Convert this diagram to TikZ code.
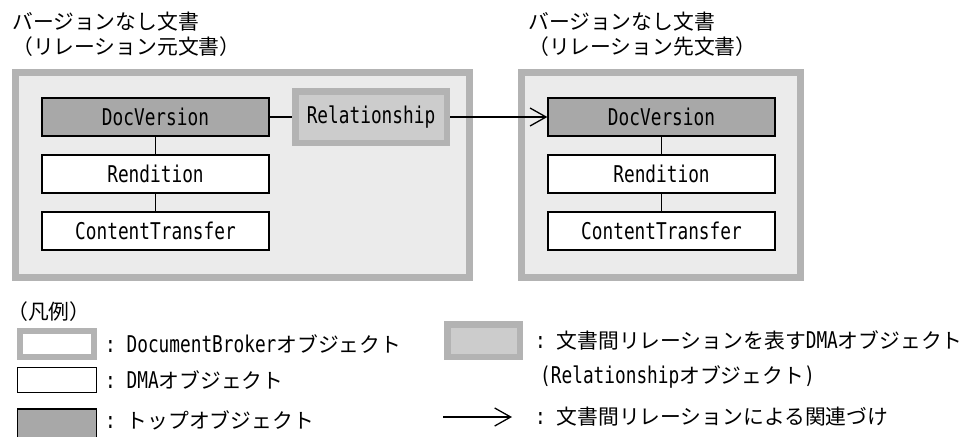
\documentclass[tikz,border=0pt]{standalone}
\usepackage{fontspec}
\newfontfamily\jpf{Noto Sans CJK JP}
\newfontfamily\latf[FakeStretch=0.77,Scale=1.11]{DejaVu Sans Mono}
\usetikzlibrary{arrows.meta}
\definecolor{brdgray}{HTML}{B3B3B3}
\definecolor{docfill}{HTML}{EBEBEB}
\definecolor{relfill}{HTML}{CCCCCC}
\definecolor{topfill}{HTML}{A8A8A8}
\tikzset{
  txt/.style={anchor=west,inner sep=0pt,font=\fontsize{20.8}{25}\selectfont\jpf},
  docbox/.style={draw=brdgray,line width=7pt,fill=docfill,inner sep=0pt},
  relbox/.style={draw=brdgray,line width=6.5pt,fill=relfill,inner sep=0pt,font=\fontsize{20.8}{25}\selectfont\latf},
  dmabox/.style={draw=black,line width=1.3pt,fill=white,inner sep=0pt,minimum width=227pt,minimum height=38pt,font=\fontsize{20.8}{25}\selectfont\latf},
  topbox/.style={dmabox,fill=topfill},
  conn/.style={draw=black,line width=1.3pt},
  relarrow/.style={conn,-{Straight Barb[length=16pt,width=18pt,line width=1.3pt]}}
}
\begin{document}
\begin{tikzpicture}[x=1pt,y=-1pt]
\useasboundingbox (0,0) rectangle (973,436);
% titles
\node[txt] (t1a) at (12,22) {バージョンなし文書};
\node[txt] (t1b) at (12,47) {（リレーション元文書）};
\node[txt] (t2a) at (528,22) {バージョンなし文書};
\node[txt] (t2b) at (528,47) {（リレーション先文書）};
% outer document boxes
\node[docbox,minimum width=454pt,minimum height=205pt] (doc1) at (242.5,175) {};
\node[docbox,minimum width=279pt,minimum height=205pt] (doc2) at (661,175) {};
% left column
\node[topbox] (dv1) at (155.5,117) {DocVersion};
\node[dmabox] (rd1) at (155.5,174) {Rendition};
\node[dmabox] (ct1) at (155.5,231) {ContentTransfer};
% relationship
\node[relbox,minimum width=151.5pt,minimum height=51.5pt] (rel) at (371,117) {Relationship};
% right column
\node[topbox] (dv2) at (661.5,117) {DocVersion};
\node[dmabox] (rd2) at (661.5,174) {Rendition};
\node[dmabox] (ct2) at (661.5,231) {ContentTransfer};
% connectors
\draw[conn] (dv1) -- (rd1);
\draw[conn] (rd1) -- (ct1);
\draw[conn] (dv2) -- (rd2);
\draw[conn] (rd2) -- (ct2);
\draw[conn] (dv1) -- (rel);
\draw[relarrow] (rel) -- (dv2);
% legend
\node[txt] (lg) at (7,312) {（凡例）};
\node[draw=brdgray,line width=6pt,fill=white,inner sep=0pt,minimum width=74pt,minimum height=26pt] (lb1) at (57,344) {};
\node[txt] (lt1) at (105,344) {{\latf :~DocumentBroker}オブジェクト};
\node[draw=black,line width=1.3pt,fill=white,inner sep=0pt,minimum width=78.7pt,minimum height=24.7pt] (lb2) at (57,380) {};
\node[txt] (lt2) at (105,380) {{\latf :~DMA}オブジェクト};
\node[draw=black,line width=1.3pt,fill=topfill,inner sep=0pt,minimum width=78.7pt,minimum height=40pt] (lb3) at (57,429) {};
\node[txt] (lt3) at (105,420) {{\latf :~}トップオブジェクト};
\node[draw=brdgray,line width=6.5pt,fill=relfill,inner sep=0pt,minimum width=72.5pt,minimum height=32.5pt] (lb4) at (483.5,340.5) {};
\node[txt] (lt4) at (535,340) {{\latf :~}文書間リレーションを表す{\latf DMA}オブジェクト};
\node[txt] (lt5) at (540,377) {{\latf(Relationship}オブジェクト{\latf)}};
\coordinate (la1) at (443,417);
\coordinate (la2) at (512,417);
\draw[relarrow] (la1) -- (la2);
\node[txt] (lt6) at (535,417) {{\latf :~}文書間リレーションによる関連づけ};
\end{tikzpicture}
\end{document}
